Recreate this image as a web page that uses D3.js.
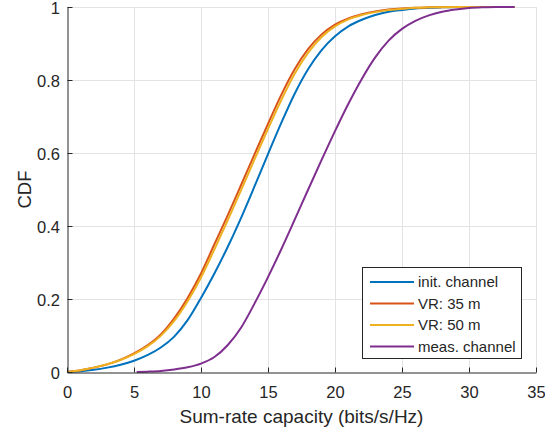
<!DOCTYPE html>
<html>
<head>
<meta charset="utf-8">
<script src="https://cdn.jsdelivr.net/npm/d3@7"></script>
<style>
body { margin: 0; background: #fff; }
text { font-family: "Liberation Sans", Arial, sans-serif; fill: #262626; }
</style>
</head>
<body>
<div id="chart"></div>
<script>
// CDF curves: [capacity, probability]
var initChannel = [[0,0],[1,0.002],[2,0.006],[3,0.012],[4,0.02],[5,0.031],[6,0.046],[7,0.067],[8,0.097],[9,0.142],[10,0.203],
	[11,0.27],[12,0.343],[13,0.423],[14,0.509],[15,0.597],[16,0.683],[17,0.763],[18,0.83],[19,0.882],[20,0.92],
	[21,0.947],[22,0.965],[23,0.978],[24,0.987],[25,0.992],[26,0.996],[27,0.998],[28,0.999],[30,1],[33.4,1]];
var vr35 = [[0,0],[1,0.005],[2,0.012],[3,0.021],[4,0.034],[5,0.051],[6,0.073],[7,0.103],[8,0.147],[9,0.203],[10,0.27],
	[11,0.35],[12,0.43],[13,0.513],[14,0.597],[15,0.68],[16,0.76],[17,0.83],[18,0.885],[19,0.925],[20,0.952],
	[21,0.969],[22,0.98],[23,0.988],[24,0.993],[25,0.996],[26,0.998],[27,0.999],[29,1],[33.4,1]];
var vr50 = [[0,0],[1,0.005],[2,0.012],[3,0.021],[4,0.033],[5,0.049],[6,0.07],[7,0.099],[8,0.14],[9,0.194],[10,0.259],
	[11,0.336],[12,0.416],[13,0.499],[14,0.583],[15,0.666],[16,0.746],[17,0.818],[18,0.875],[19,0.918],[20,0.947],
	[21,0.966],[22,0.978],[23,0.986],[24,0.992],[25,0.995],[26,0.998],[27,0.999],[29,1],[33.4,1]];
var measChannel = [[5.2,0],[6,0.001],[7,0.003],[8,0.007],[9,0.013],[10,0.023],[11,0.041],[12,0.074],[13,0.122],[14,0.188],
	[15,0.26],[16,0.337],[17,0.418],[18,0.5],[19,0.581],[20,0.66],[21,0.735],[22,0.803],[23,0.862],[24,0.908],
	[25,0.94],[26,0.962],[27,0.977],[28,0.987],[29,0.993],[30,0.997],[31,0.999],[32,1],[33.4,1]];

var seriesNames = ["init. channel", "VR: 35 m", "VR: 50 m", "meas. channel"];
var seriesColors = ["#0072BD", "#D95319", "#EDB120", "#7E2F8E"];
var xTicks = [0, 5, 10, 15, 20, 25, 30, 35];
var yTicks = [0, 0.2, 0.4, 0.6, 0.8, 1];

var width = 545, height = 432;
var margin = { left: 67, right: 9, top: 7, bottom: 60 };

var svg = d3.select("#chart").append("svg")
	.attr("width", width)
	.attr("height", height);

var x = d3.scaleLinear().domain([0, 35]).range([margin.left, width - margin.right]);
var y = d3.scaleLinear().domain([0, 1]).range([height - margin.bottom, margin.top]);

// grid
var grid = svg.append("g").attr("class", "grid");
grid.selectAll(".gx").data(xTicks.slice(1)).enter().append("line")
	.attr("x1", function(d) { return Math.round(x(d)) + 0.5; })
	.attr("x2", function(d) { return Math.round(x(d)) + 0.5; })
	.attr("y1", y(0)).attr("y2", y(1))
	.attr("stroke", "#e3e3e3").attr("stroke-width", 1);
grid.selectAll(".gy").data(yTicks.slice(1)).enter().append("line")
	.attr("y1", function(d) { return Math.round(y(d)) + 0.5; })
	.attr("y2", function(d) { return Math.round(y(d)) + 0.5; })
	.attr("x1", x(0)).attr("x2", x(35))
	.attr("stroke", "#e3e3e3").attr("stroke-width", 1);

// curves
var line = d3.line()
	.x(function(d) { return x(d[0]); })
	.y(function(d) { return y(d[1]); })
	.curve(d3.curveMonotoneX);

var allSeries = [initChannel, vr35, vr50, measChannel];
svg.append("g").selectAll("path").data(allSeries).enter().append("path")
	.attr("d", line)
	.attr("fill", "none")
	.attr("stroke", function(d, i) { return seriesColors[i]; })
	.attr("stroke-width", 2);

// axes (ticks inward, like matlab)
var xAxis = svg.append("g")
	.attr("transform", "translate(0," + (Math.round(y(0)) + 0.5) + ")")
	.call(d3.axisBottom(x).tickValues(xTicks).tickSizeInner(-5).tickSizeOuter(0).tickPadding(13.5));
var yAxis = svg.append("g")
	.attr("transform", "translate(" + (Math.round(x(0)) + 0.5) + ",0)")
	.call(d3.axisLeft(y).tickValues(yTicks).tickSizeInner(-5).tickSizeOuter(0).tickPadding(7.5)
		.tickFormat(function(d) { return d3.format("")(d); }));
yAxis.selectAll(".tick text").attr("dy", "0.42em");

[xAxis, yAxis].forEach(function(a) {
	a.select(".domain").attr("stroke", "#262626");
	a.selectAll(".tick line").attr("stroke", "#262626");
	a.selectAll(".tick text")
		.attr("fill", "#262626")
		.style("font-family", "'Liberation Sans', Arial, sans-serif")
		.style("font-size", "16.5px");
});

svg.append("text")
	.attr("x", x(17.5))
	.attr("y", 423)
	.attr("text-anchor", "middle")
	.style("font-size", "19px")
	.text("Sum-rate capacity (bits/s/Hz)");

svg.append("text")
	.attr("transform", "translate(31," + y(0.5) + ") rotate(-90)")
	.attr("text-anchor", "middle")
	.style("font-size", "18.5px")
	.text("CDF");

// legend
var legend = svg.append("g").attr("transform", "translate(362.5,267.5)");
legend.append("rect")
	.attr("width", 159).attr("height", 91)
	.attr("fill", "#fff").attr("stroke", "#262626").attr("stroke-width", 1);
var item = legend.selectAll(".item").data(seriesNames).enter().append("g")
	.attr("transform", function(d, i) { return "translate(0," + (14.5 + i * 21.5) + ")"; });
item.append("line")
	.attr("x1", 7.5).attr("x2", 51.5)
	.attr("stroke", function(d, i) { return seriesColors[i]; })
	.attr("stroke-width", 2);
item.append("text")
	.attr("x", 55.5).attr("dy", "0.35em")
	.style("font-size", "15px")
	.text(function(d) { return d; });
</script>
</body>
</html>
